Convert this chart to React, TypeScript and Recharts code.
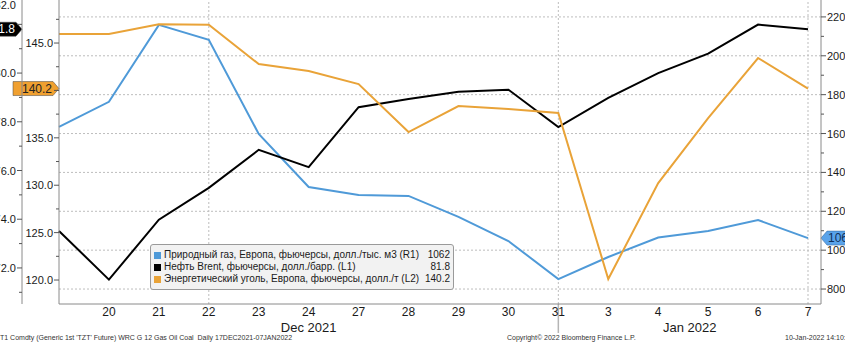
import { LineChart, Line, XAxis, YAxis, ReferenceLine, Legend } from "recharts";

// торговые дни 17.12.2021 – 07.01.2022
const days = ["17", "20", "21", "22", "23", "24", "27", "28", "29", "30", "31", "3", "4", "5", "6", "7"];
const gas = [1634, 1763, 2159, 2082, 1598, 1325, 1284, 1279, 1171, 1047, 851, 965, 1065, 1099, 1155, 1062];
const brent = [73.52, 71.52, 73.98, 75.29, 76.85, 76.14, 78.6, 78.94, 79.23, 79.32, 77.78, 78.98, 80.0, 80.8, 81.99, 81.8];
const coal = [145.95, 145.95, 146.97, 146.93, 142.78, 142.05, 140.67, 135.61, 138.35, 138.04, 137.62, 120.1, 130.23, 137.09, 143.42, 140.2];

const names = [
  "Природный газ, Европа, фьючерсы, долл./тыс. м3 (R1)",
  "Нефть Brent, фьючерсы, долл./барр. (L1)",
  "Энергетический уголь, Европа, фьючерсы, долл./т (L2)",
];
const colors = ["#4f9ad8", "#000000", "#e9a338"];

const brentTicks = [71, 72, 73, 74, 75, 76, 77, 78, 79, 80, 81, 82];
const brentMajor = [72, 74, 76, 78, 80, 82];
const coalTicks = [120, 122.5, 125, 127.5, 130, 132.5, 135, 137.5, 140, 142.5, 145, 147.5];
const coalMajor = [120, 125, 130, 135, 140, 145];
const gasTicks = [800, 900, 1000, 1100, 1200, 1300, 1400, 1500, 1600, 1700, 1800, 1900, 2000, 2100, 2200];
const gasMajor = [800, 1000, 1200, 1400, 1600, 1800, 2000, 2200];
const gridDays = ["22", "31", "7"];

const W = 845;
const H = 343;
const L1_W = 22;
const L2_W = 37;
const R1_W = 24;
const X_H = 39;
const PLOT_LEFT = L1_W + L2_W;
const PLOT_RIGHT = W - R1_W;

// ids: внутренняя левая ось (уголь) и внешняя (Brent)
const COAL_AXIS = "a_coal";
const BRENT_AXIS = "b_brent";
const GAS_AXIS = "r_gas";

const data = days.map((d, i) => ({ day: d, gas: gas[i], brent: brent[i], coal: coal[i] }));

const lastGas = gas[gas.length - 1];
const lastBrent = brent[brent.length - 1];
const lastCoal = coal[coal.length - 1];
const lastValues = [String(lastGas), lastBrent.toFixed(1), lastCoal.toFixed(1)];

const axisFont = "'Liberation Sans', Arial, sans-serif";
const narrowFont = "'Liberation Sans Narrow', 'Liberation Sans', Arial, sans-serif";

// подпись деления, которую закрывает плашка, Bloomberg либо прячет, либо сдвигает вверх
type Near = { value: number; within: number; mode: "hide" | "lift" };

function makeTick(majors: number[], fmt: (v: number) => string, side: "left" | "right", near?: Near) {
  return (props: any) => {
    const { x, y, payload } = props;
    const v = payload.value;
    const major = majors.includes(v);
    const len = major ? 5 : 3;
    let showText = major;
    let ty = y;
    if (major && near && Math.abs(v - near.value) < near.within) {
      if (near.mode === "hide") showText = false;
      else ty = y - 19;
    }
    if (side === "left") {
      const ax = x + 8;
      return (
        <g>
          <line x1={ax} x2={ax - len} y1={y} y2={y} stroke="#555" />
          {showText && (
            <text x={ax - 6} y={ty} dy={4} textAnchor="end" fontSize={11} fontFamily={axisFont} fill="#1a1a1a">
              {fmt(v)}
            </text>
          )}
        </g>
      );
    }
    const ax = x - 8;
    return (
      <g>
        <line x1={ax} x2={ax + len} y1={y} y2={y} stroke="#555" />
        {showText && (
          <text x={ax + 6} y={ty} dy={4} textAnchor="start" fontSize={11} fontFamily={axisFont} fill="#1a1a1a">
            {fmt(v)}
          </text>
        )}
      </g>
    );
  };
}

function XTick(props: any) {
  const { x, y, payload, index } = props;
  if (index === 0) return null;
  return (
    <text x={x} y={y} dy={4} textAnchor="middle" fontSize={12} fontFamily={narrowFont} fill="#1a1a1a">
      {payload.value}
    </text>
  );
}

// плашка с последним значением у оси
function badge(text: string, fill: string, textFill: string, dir: "left" | "right", shift: number) {
  return (props: any) => {
    const vb = props.viewBox || {};
    const y = vb.y;
    const h = 14;
    const bw = 40;
    if (dir === "right") {
      const tip = vb.x - shift;
      const pts = `${tip - bw - 6},${y - h / 2} ${tip - 6},${y - h / 2} ${tip},${y} ${tip - 6},${y + h / 2} ${tip - bw - 6},${y + h / 2}`;
      return (
        <g>
          <polygon points={pts} fill={fill} stroke="#444" strokeWidth={0.5} />
          <text x={tip - 7} y={y} dy={4} textAnchor="end" fontSize={12} fontFamily={axisFont} fill={textFill}>
            {text}
          </text>
        </g>
      );
    }
    const tip = vb.x + vb.width + shift;
    const pts = `${tip},${y} ${tip + 6},${y - h / 2} ${tip + bw + 6},${y - h / 2} ${tip + bw + 6},${y + h / 2} ${tip + 6},${y + h / 2}`;
    return (
      <g>
        <polygon points={pts} fill={fill} stroke="#2a5f95" strokeWidth={0.5} />
        <text x={tip + 7} y={y} dy={4} textAnchor="start" fontSize={12} fontFamily={axisFont} fill={textFill}>
          {text}
        </text>
      </g>
    );
  };
}

function MonthLabels(props: any) {
  const vb = props.viewBox || {};
  const x = vb.x;
  const bottom = vb.y + vb.height;
  return (
    <g>
      <line x1={x} x2={x} y1={bottom} y2={bottom + 29} stroke="#b5b5b5" strokeWidth={1.5} />
      <text x={(PLOT_LEFT + x) / 2} y={bottom + 28} textAnchor="middle" fontSize={13} fontFamily={narrowFont} fill="#1a1a1a">
        Dec 2021
      </text>
      <text x={(x + PLOT_RIGHT) / 2} y={bottom + 28} textAnchor="middle" fontSize={13} fontFamily={narrowFont} fill="#1a1a1a">
        Jan 2022
      </text>
    </g>
  );
}

function LegendBox() {
  return (
    <div
      style={{
        background: "#f2f2f2",
        border: "1px solid #9a9a9a",
        borderRadius: 3,
        padding: "4px 3px 4px 3px",
        fontFamily: axisFont,
        fontSize: 10,
        lineHeight: "12px",
        color: "#1a1a1a",
        boxSizing: "border-box",
        width: 304,
      }}
    >
      {names.map((n, i) => (
        <div key={n} style={{ display: "flex", alignItems: "center", whiteSpace: "nowrap" }}>
          <span style={{ width: 7, height: 7, background: colors[i], marginRight: 3, flex: "none" }} />
          <span>{n}</span>
          <span style={{ marginLeft: "auto" }}>{lastValues[i]}</span>
        </div>
      ))}
    </div>
  );
}

export default function App() {
  return (
    <div style={{ position: "fixed", left: 0, top: 0, width: W, height: H, overflow: "hidden", background: "#fff" }}>
      <LineChart width={W} height={H} data={data} margin={{ top: 0, right: 0, bottom: 0, left: 0 }}>
        <XAxis
          dataKey="day"
          height={X_H}
          interval={0}
          padding={{ left: 0, right: 13 }}
          tickLine={false}
          tick={<XTick />}
          axisLine={{ stroke: "#8a8a8a" }}
        />
        <YAxis
          yAxisId={COAL_AXIS}
          orientation="left"
          width={L2_W}
          domain={[117.47, 149.54]}
          allowDataOverflow
          ticks={coalTicks}
          interval={0}
          tickSize={6}
          tickMargin={2}
          tickLine={false}
          tick={makeTick(coalMajor, (v) => v.toFixed(1), "left", { value: lastCoal, within: 1.5, mode: "hide" })}
          axisLine={{ stroke: "#8a8a8a" }}
        />
        <YAxis
          yAxisId={BRENT_AXIS}
          orientation="left"
          width={L1_W}
          domain={[70.52, 83.0]}
          allowDataOverflow
          ticks={brentTicks}
          interval={0}
          tickSize={6}
          tickMargin={2}
          tickLine={false}
          tick={makeTick(brentMajor, (v) => v.toFixed(1), "left", { value: lastBrent, within: 0.6, mode: "lift" })}
          axisLine={{ stroke: "#8a8a8a" }}
        />
        <YAxis
          yAxisId={GAS_AXIS}
          orientation="right"
          width={R1_W}
          domain={[723, 2287]}
          allowDataOverflow
          ticks={gasTicks}
          interval={0}
          tickSize={6}
          tickMargin={2}
          tickLine={false}
          tick={makeTick(gasMajor, (v) => String(v), "right")}
          axisLine={{ stroke: "#8a8a8a" }}
        />
        {gasMajor.map((v) => (
          <ReferenceLine key={"g" + v} yAxisId={GAS_AXIS} y={v} stroke="#bdbdbd" strokeDasharray="2 2" />
        ))}
        {gridDays.map((d) => (
          <ReferenceLine
            key={"d" + d}
            yAxisId={GAS_AXIS}
            x={d}
            stroke="#bdbdbd"
            strokeDasharray="2 2"
            label={d === "31" ? <MonthLabels /> : undefined}
          />
        ))}
        <Line yAxisId={GAS_AXIS} dataKey="gas" name={names[0]} stroke={colors[0]} strokeWidth={2} dot={false} isAnimationActive={false} />
        <Line yAxisId={BRENT_AXIS} dataKey="brent" name={names[1]} stroke={colors[1]} strokeWidth={2} dot={false} isAnimationActive={false} />
        <Line yAxisId={COAL_AXIS} dataKey="coal" name={names[2]} stroke={colors[2]} strokeWidth={2} dot={false} isAnimationActive={false} />
        <ReferenceLine yAxisId={BRENT_AXIS} y={lastBrent} stroke="none" label={badge(lastValues[1], "#000", "#fff", "right", L2_W)} />
        <ReferenceLine yAxisId={COAL_AXIS} y={lastCoal} stroke="none" label={badge(lastValues[2], "#f0a030", "#222", "right", 0)} />
        <ReferenceLine yAxisId={GAS_AXIS} y={lastGas} stroke="none" label={badge(lastValues[0], "#5aa3ea", "#10315a", "left", 0)} />
        <Legend
          layout="vertical"
          align="center"
          verticalAlign="middle"
          content={<LegendBox />}
          wrapperStyle={{ left: 150, top: 244, width: 305, height: 47 }}
        />
      </LineChart>
      <div
        style={{
          position: "absolute",
          left: 0,
          top: 334,
          width: W,
          fontFamily: narrowFont,
          fontSize: 7,
          color: "#333",
          whiteSpace: "nowrap",
        }}
      >
        <span style={{ position: "absolute", left: 0 }}>
          T1 Comdty (Generic 1st 'TZT' Future) WRC G 12 Gas Oil Coal&nbsp;&nbsp;Daily 17DEC2021-07JAN2022
        </span>
        <span style={{ position: "absolute", left: 507 }}>Copyright© 2022 Bloomberg Finance L.P.</span>
        <span style={{ position: "absolute", left: 785 }}>10-Jan-2022 14:10:</span>
      </div>
    </div>
  );
}
